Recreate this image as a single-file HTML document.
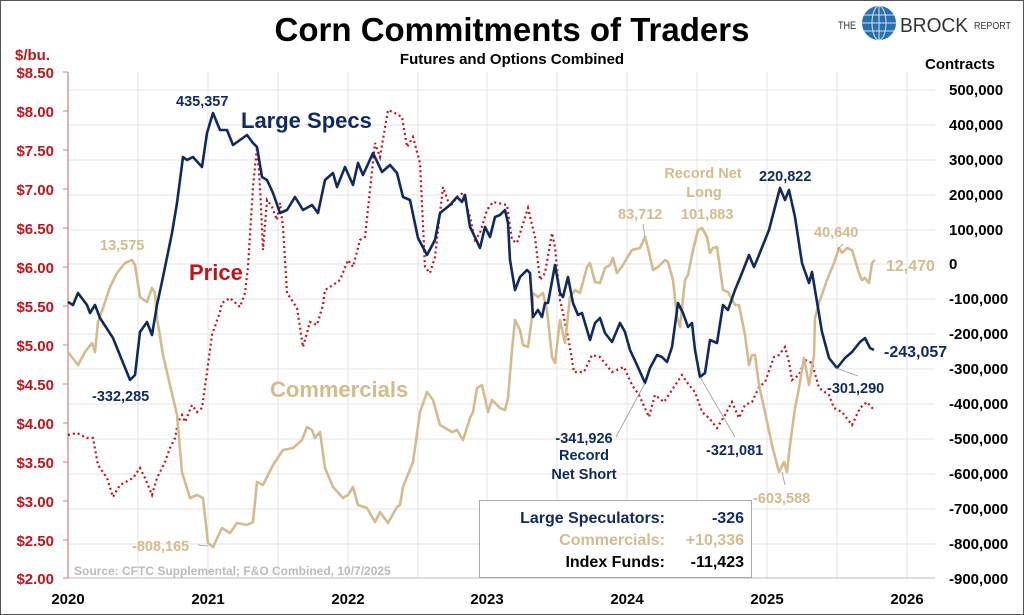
<!DOCTYPE html>
<html><head><meta charset="utf-8"><style>
html,body{margin:0;padding:0;background:#fff}
svg{display:block;font-family:"Liberation Sans",Arial,sans-serif;font-weight:bold}
</style></head><body>
<svg width="1024" height="615" viewBox="0 0 1024 615" xmlns="http://www.w3.org/2000/svg">
<rect x="0.5" y="0.5" width="1023" height="614" fill="#fff" stroke="#555" stroke-width="1"/>
<g stroke="#e3e3e3" stroke-width="1">
<line x1="68" y1="90" x2="935" y2="90"/><line x1="68" y1="125" x2="935" y2="125"/><line x1="68" y1="160" x2="935" y2="160"/><line x1="68" y1="195" x2="935" y2="195"/><line x1="68" y1="230" x2="935" y2="230"/><line x1="68" y1="264" x2="935" y2="264"/><line x1="68" y1="299" x2="935" y2="299"/><line x1="68" y1="334" x2="935" y2="334"/><line x1="68" y1="369" x2="935" y2="369"/><line x1="68" y1="404" x2="935" y2="404"/><line x1="68" y1="439" x2="935" y2="439"/><line x1="68" y1="474" x2="935" y2="474"/><line x1="68" y1="509" x2="935" y2="509"/><line x1="68" y1="544" x2="935" y2="544"/>
<line x1="138" y1="72" x2="138" y2="578"/><line x1="208" y1="72" x2="208" y2="578"/><line x1="278" y1="72" x2="278" y2="578"/><line x1="348" y1="72" x2="348" y2="578"/><line x1="418" y1="72" x2="418" y2="578"/><line x1="487" y1="72" x2="487" y2="578"/><line x1="557" y1="72" x2="557" y2="578"/><line x1="627" y1="72" x2="627" y2="578"/><line x1="697" y1="72" x2="697" y2="578"/><line x1="767" y1="72" x2="767" y2="578"/><line x1="837" y1="72" x2="837" y2="578"/><line x1="907" y1="72" x2="907" y2="578"/>
</g>
<line x1="68" y1="578" x2="935" y2="578" stroke="#bbb" stroke-width="1"/>
<line x1="68" y1="72" x2="68" y2="578" stroke="#d08080" stroke-width="1.2"/>
<g stroke="#d08080" stroke-width="1">
<line x1="63" y1="72" x2="68" y2="72"/><line x1="63" y1="111" x2="68" y2="111"/><line x1="63" y1="150" x2="68" y2="150"/><line x1="63" y1="189" x2="68" y2="189"/><line x1="63" y1="228" x2="68" y2="228"/><line x1="63" y1="267" x2="68" y2="267"/><line x1="63" y1="306" x2="68" y2="306"/><line x1="63" y1="345" x2="68" y2="345"/><line x1="63" y1="384" x2="68" y2="384"/><line x1="63" y1="423" x2="68" y2="423"/><line x1="63" y1="462" x2="68" y2="462"/><line x1="63" y1="501" x2="68" y2="501"/><line x1="63" y1="540" x2="68" y2="540"/><line x1="63" y1="578" x2="68" y2="578"/>
</g>
<!-- Price -->
<polyline fill="none" stroke="#c0141c" stroke-width="2.2" stroke-dasharray="2,3" points="68,435 77,433 87,438 93,438 98,465 107,478 113,497 120,485 133,478 140,468 145,478 152,495 157,478 165,462 170,448 175,438 178,422 182,415 185,422 192,405 197,412 202,408 207,372 212,335 220,312 222,303 230,298 240,307 245,293 248,267 253,187 257,147 260,187 263,250 267,200 272,207 277,220 280,203 283,227 287,293 297,308 303,347 310,322 317,325 323,305 325,290 333,285 340,280 348,260 353,267 360,240 365,237 370,190 375,143 380,157 388,110 395,113 402,117 407,147 413,137 420,163 425,267 430,273 435,257 443,187 450,207 457,197 463,193 470,217 475,240 480,233 487,210 493,202 507,205 512,240 517,243 522,227 528,208 535,237 540,280 545,273 552,233 555,247 560,300 563,313 569,342 574,372 584,372 592,355 600,357 612,372 624,367 632,385 639,395 649,417 655,395 664,402 672,390 682,375 689,385 695,392 702,412 709,418 717,428 725,415 732,402 739,418 745,405 752,402 759,387 765,382 774,357 779,355 785,347 789,362 792,380 799,375 805,360 812,363 819,388 829,395 834,408 842,412 852,425 860,408 867,402 874,410"/>
<!-- Commercials -->
<polyline fill="none" stroke="#d2bc8e" stroke-width="2.6" stroke-linejoin="round" points="68,352 78,365 85,352 92,343 95,352 98,322 103,308 110,287 117,273 125,263 132,260 135,265 140,297 147,302 152,288 155,293 157,318 163,355 170,385 177,415 182,472 190,498 197,495 203,498 208,543 213,547 222,528 230,533 237,523 247,525 253,522 257,482 263,485 273,465 283,450 293,448 302,440 307,427 312,430 315,438 320,432 325,468 333,487 343,498 348,495 353,487 358,505 367,508 375,522 380,512 388,523 397,507 400,505 403,487 413,462 420,412 427,392 433,400 440,425 452,432 457,430 463,440 470,418 473,412 477,388 482,385 488,412 492,400 500,408 505,410 508,398 512,350 515,320 520,330 523,345 528,347 532,317 533,293 538,297 543,293 547,310 552,357 555,363 560,320 565,343 570,297 575,290 580,293 587,267 590,263 595,282 600,283 605,268 610,265 613,258 617,273 623,265 627,258 632,250 640,248 645,237 648,248 653,270 658,267 665,260 668,262 673,280 677,317 680,327 685,280 688,275 693,250 698,230 702,228 707,237 710,253 713,248 717,247 723,290 728,292 735,305 739,305 745,335 749,365 752,355 755,355 759,385 765,412 772,445 779,472 784,462 787,472 790,445 795,408 799,388 804,358 809,385 814,355 815,318 819,303 827,280 834,263 839,248 842,253 847,248 852,250 859,273 862,280 865,278 869,283 872,263 875,260"/>
<!-- Large Specs -->
<polyline fill="none" stroke="#0f2a5e" stroke-width="2.6" stroke-linejoin="round" points="68,302 73,305 78,293 87,305 90,313 95,305 100,318 113,338 130,380 135,375 140,332 147,322 152,335 157,305 163,277 172,233 177,203 183,157 187,160 193,157 202,167 207,133 213,113 220,130 227,130 233,145 240,140 247,135 253,143 257,147 262,177 267,180 273,193 280,213 287,210 295,197 303,210 312,205 318,213 325,180 333,173 337,187 345,167 353,185 358,163 363,175 373,153 382,172 390,165 397,173 403,197 410,200 418,238 427,255 435,240 440,213 450,205 457,197 462,202 465,195 470,227 473,233 480,248 485,227 490,237 495,217 500,215 505,210 508,223 510,260 515,290 520,277 527,270 530,273 533,317 538,310 542,317 545,303 548,303 555,265 560,293 563,297 568,277 573,303 578,315 582,313 590,340 595,323 600,318 605,333 612,342 620,323 625,332 630,350 637,365 645,383 650,368 657,355 662,357 667,362 672,347 678,303 683,313 688,327 692,323 695,350 700,377 705,373 710,340 717,343 723,305 728,310 735,290 742,273 749,255 754,267 759,255 769,230 775,207 780,188 785,200 789,190 795,217 802,263 809,283 812,272 815,290 822,332 829,358 837,368 845,358 852,352 860,342 865,338 870,348 874,350"/>
<!-- leaders -->
<g stroke="#999" stroke-width="0.8" fill="none">
<line x1="616" y1="437" x2="645" y2="383"/><line x1="735" y1="437" x2="700" y2="377"/><line x1="785" y1="485" x2="782" y2="472"/><line x1="858" y1="376" x2="836" y2="368"/><line x1="843" y1="244" x2="837" y2="250"/><line x1="198" y1="545" x2="208" y2="546"/><line x1="643" y1="224" x2="645" y2="237"/>
</g>
<!-- Title -->
<text x="512" y="41" text-anchor="middle" font-size="33" fill="#000">Corn Commitments of Traders</text>
<text x="512" y="64" text-anchor="middle" font-size="15" fill="#000">Futures and Options Combined</text>
<!-- logo -->
<text x="838" y="29" font-size="11" font-weight="normal" fill="#333" textLength="18" lengthAdjust="spacingAndGlyphs">THE</text>
<circle cx="879" cy="23" r="17" fill="#2a6fae"/>
<g stroke="#cfe3f3" stroke-width="1" fill="none"><ellipse cx="879" cy="23" rx="7" ry="17"/><line x1="862" y1="23" x2="896" y2="23"/><line x1="864" y1="15" x2="894" y2="15"/><line x1="864" y1="31" x2="894" y2="31"/><line x1="879" y1="6" x2="879" y2="40"/></g>
<text x="900" y="32" font-size="20" font-weight="normal" fill="#333" textLength="68" lengthAdjust="spacingAndGlyphs">BROCK</text>
<text x="974" y="29" font-size="10" font-weight="normal" fill="#333" textLength="37" lengthAdjust="spacingAndGlyphs">REPORT</text>
<!-- axis titles -->
<text x="15" y="60" font-size="15" fill="#c0141c">$/bu.</text>
<text x="925" y="69" font-size="15" fill="#000">Contracts</text>
<g font-size="15" fill="#c0141c" text-anchor="end">
<text x="54" y="78">$8.50</text><text x="54" y="117">$8.00</text><text x="54" y="156">$7.50</text><text x="54" y="195">$7.00</text><text x="54" y="234">$6.50</text><text x="54" y="273">$6.00</text><text x="54" y="312">$5.50</text><text x="54" y="351">$5.00</text><text x="54" y="390">$4.50</text><text x="54" y="429">$4.00</text><text x="54" y="468">$3.50</text><text x="54" y="507">$3.00</text><text x="54" y="546">$2.50</text><text x="54" y="584">$2.00</text>
</g>
<g font-size="15" fill="#000">
<text x="949" y="95">500,000</text><text x="949" y="130">400,000</text><text x="949" y="165">300,000</text><text x="949" y="200">200,000</text><text x="949" y="235">100,000</text><text x="949" y="269">0</text><text x="949" y="304">-100,000</text><text x="949" y="339">-200,000</text><text x="949" y="374">-300,000</text><text x="949" y="409">-400,000</text><text x="949" y="444">-500,000</text><text x="949" y="479">-600,000</text><text x="949" y="514">-700,000</text><text x="949" y="549">-800,000</text><text x="949" y="584">-900,000</text>
</g>
<g font-size="15" fill="#000" text-anchor="middle">
<text x="68" y="604">2020</text><text x="208" y="604">2021</text><text x="348" y="604">2022</text><text x="487" y="604">2023</text><text x="627" y="604">2024</text><text x="767" y="604">2025</text><text x="907" y="604">2026</text>
</g>
<!-- annotations -->
<g font-size="14.5">
<text x="176" y="106" fill="#0f2a5e">435,357</text>
<text x="241" y="128" font-size="22" fill="#0f2a5e">Large Specs</text>
<text x="100" y="250" fill="#d2bc8e">13,575</text>
<text x="189" y="280" font-size="22" fill="#c0141c">Price</text>
<text x="92" y="401" fill="#0f2a5e">-332,285</text>
<text x="270" y="397" font-size="22" fill="#d2bc8e">Commercials</text>
<text x="132" y="551" fill="#d2bc8e">-808,165</text>
<text x="74" y="575" font-size="12" fill="#bbb">Source: CFTC Supplemental;  F&amp;O Combined, 10/7/2025</text>
<text x="584" y="443" text-anchor="middle" fill="#0f2a5e">-341,926</text>
<text x="584" y="460" text-anchor="middle" fill="#0f2a5e">Record</text>
<text x="584" y="479" text-anchor="middle" fill="#0f2a5e">Net Short</text>
<text x="706" y="455" fill="#0f2a5e">-321,081</text>
<text x="753" y="503" fill="#d2bc8e">-603,588</text>
<text x="827" y="393" fill="#0f2a5e">-301,290</text>
<text x="884" y="357" font-size="16" fill="#0f2a5e">-243,057</text>
<text x="886" y="271" font-size="16" fill="#d2bc8e">12,470</text>
<text x="814" y="237" fill="#d2bc8e">40,640</text>
<text x="759" y="181" fill="#0f2a5e">220,822</text>
<text x="618" y="219" fill="#d2bc8e">83,712</text>
<text x="681" y="219" fill="#d2bc8e">101,883</text>
<text x="703" y="178" text-anchor="middle" fill="#d2bc8e">Record Net</text>
<text x="704" y="197" text-anchor="middle" fill="#d2bc8e">Long</text>
</g>
<!-- legend box -->
<rect x="479.5" y="500.5" width="272" height="77" fill="#fff" stroke="#aaa" stroke-width="1"/>
<g font-size="16" text-anchor="end">
<text x="665" y="523" fill="#0f2a5e">Large Speculators:</text><text x="744" y="523" fill="#0f2a5e">-326</text>
<text x="665" y="545" fill="#d2bc8e">Commercials:</text><text x="744" y="545" fill="#d2bc8e">+10,336</text>
<text x="665" y="567" fill="#000">Index Funds:</text><text x="744" y="567" fill="#000">-11,423</text>
</g>
</svg>
</body></html>
